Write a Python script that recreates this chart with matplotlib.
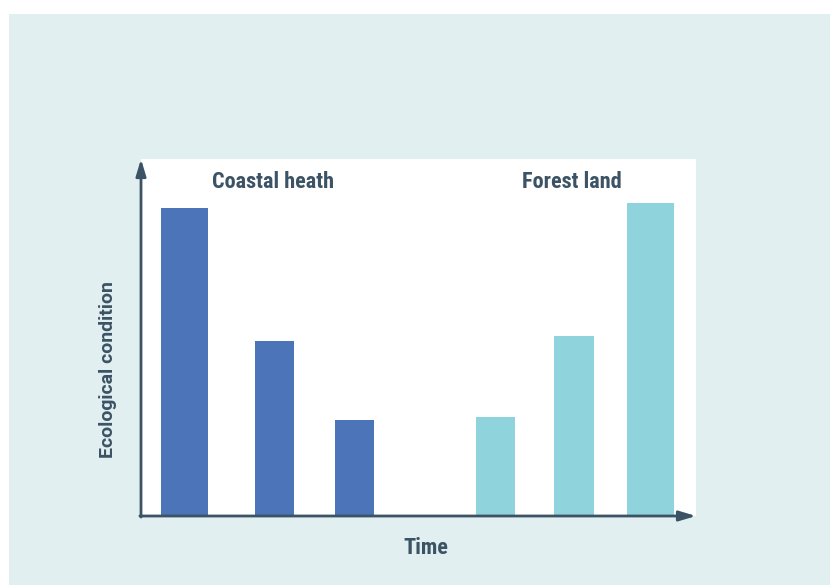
import matplotlib
matplotlib.use("Agg")
import matplotlib.pyplot as plt

# Data
coastal_time = [43.5, 133.5, 213.5]
coastal_values = [86.3, 49.0, 26.9]
coastal_widths = [47, 39, 39]
forest_time = [354.5, 433, 509.5]
forest_values = [27.6, 50.4, 87.7]
forest_widths = [39, 40, 47]
group_labels = ["Coastal heath", "Forest land"]
x_label = "Time"
y_label = "Ecological condition"

dark = "#3b5364"
c_coast = "#4b74b9"
c_forest = "#8fd4dc"
fam_narrow = ["Liberation Sans Narrow", "Roboto Condensed", "Noto Sans Condensed",
              "Open Sans Condensed", "Roboto", "DejaVu Sans"]
fam_y = ["Roboto", "DejaVu Sans"]

W, H = 830, 585
fig = plt.figure(figsize=(W / 100, H / 100), dpi=100, facecolor="white")
bg = fig.add_axes([9 / W, 0, 1 - 9 / W, (H - 14) / H], zorder=-1)
bg.set_axis_off()
bg.add_patch(plt.Rectangle((0, 0), 1, 1, transform=bg.transAxes,
                           facecolor="#e1eff0", edgecolor="none"))

ax = fig.add_axes([141 / W, 69 / H, 555 / W, 357 / H])
ax.set_facecolor("white")
ax.bar(coastal_time, coastal_values, width=coastal_widths, color=c_coast, zorder=2)
ax.bar(forest_time, forest_values, width=forest_widths, color=c_forest, zorder=2)
ax.set_xlim(0, 555)
ax.set_ylim(0, 100)
for s in ax.spines.values():
    s.set_visible(False)
ax.set_xticks([])
ax.set_yticks([])

ax.annotate("", xy=(0, 1.0), xytext=(0, -0.003), xycoords="axes fraction",
            arrowprops=dict(arrowstyle="-|>,head_length=1.0,head_width=0.3",
                            color=dark, lw=2, shrinkA=0, shrinkB=0), zorder=5,
            annotation_clip=False)
ax.annotate("", xy=(1.0, 0), xytext=(-0.002, 0), xycoords="axes fraction",
            arrowprops=dict(arrowstyle="-|>,head_length=1.0,head_width=0.3",
                            color=dark, lw=2, shrinkA=0, shrinkB=0), zorder=5,
            annotation_clip=False)

ax.text(132, 93.5, group_labels[0], ha="center", va="center", fontsize=16,
        fontweight="bold", color=dark, family=fam_narrow)
ax.text(431, 93.5, group_labels[1], ha="center", va="center", fontsize=16,
        fontweight="bold", color=dark, family=fam_narrow)

fig.text(426 / W, 1 - 548 / H, x_label, ha="center", va="center", fontsize=16,
         fontweight="bold", color=dark, family=fam_narrow)
fig.text(108 / W, 1 - 370 / H, y_label, ha="center", va="center", fontsize=14,
         fontweight="bold", color=dark, family=fam_y, rotation=90)

fig.savefig("out.png", dpi=100, facecolor="white")
